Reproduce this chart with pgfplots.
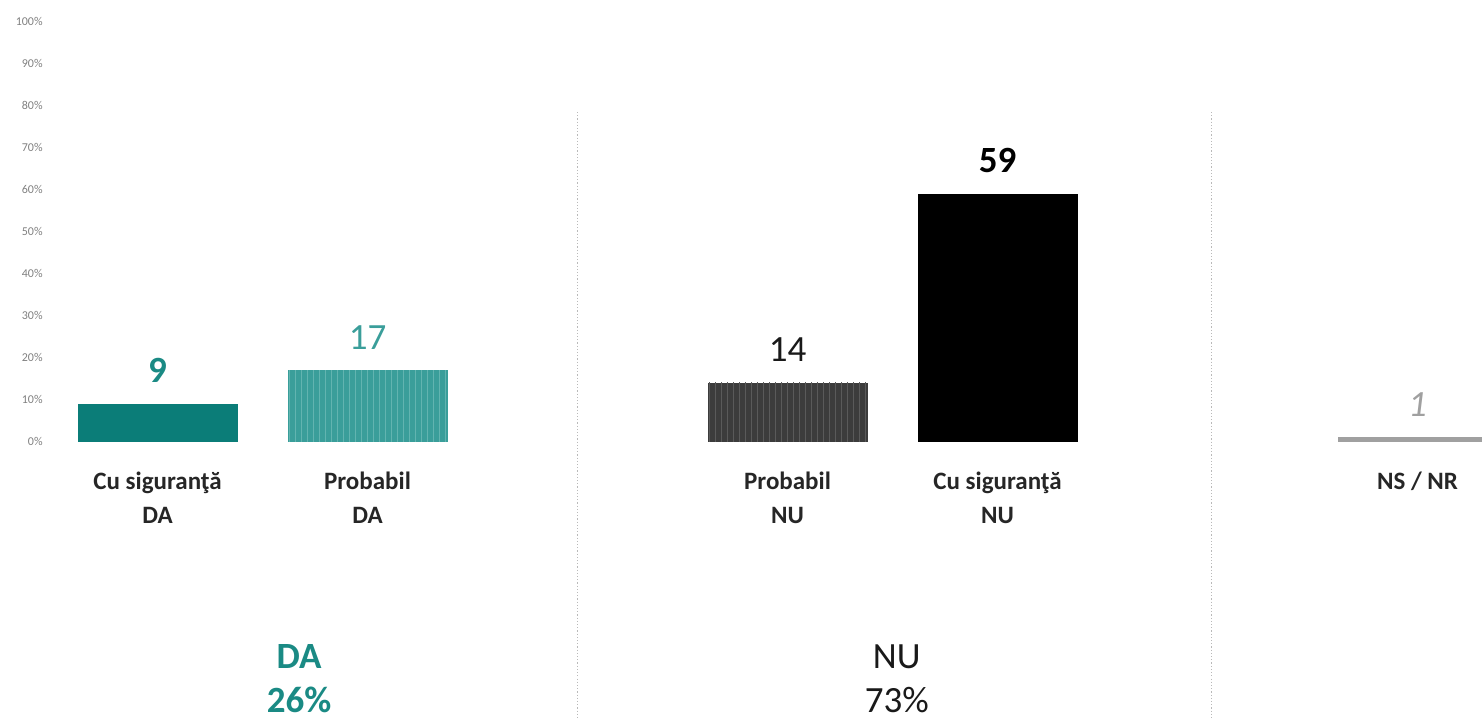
\documentclass[border=0pt]{standalone}
\usepackage{fontspec}
\setmainfont{Carlito}
\usepackage{pgfplots}
\pgfplotsset{compat=1.18}
\usetikzlibrary{patterns}
\definecolor{tealdark}{HTML}{0B7D78}
\definecolor{tealtext}{HTML}{1A8A84}
\definecolor{teallight}{HTML}{3A9E9A}
\definecolor{tealstripe}{HTML}{62B4B0}
\definecolor{greydark}{HTML}{3C3C3C}
\definecolor{greystripe}{HTML}{5A5A5A}
\definecolor{nsgrey}{HTML}{A0A0A0}
\begin{document}
\begin{tikzpicture}
  \begin{axis}[
    width=741pt, height=360pt, scale only axis,
    xmin=-0.75, xmax=6.307,
    ymin=-66.3, ymax=105.2,
    axis line style={draw=none},
    major tick length=0pt,
    ybar, bar width=80pt, bar shift=0pt,
    xtick={0,1,3,4,6},
    xticklabels={{Cu siguranţă\\DA},{Probabil\\DA},{Probabil\\NU},{Cu siguranţă\\NU},{NS / NR\\\phantom{D}}},
    xticklabel style={anchor=base, yshift=98.5pt, align=center,
      font=\fontsize{12.5}{17}\selectfont\bfseries, text=black!85},
    ytick={0,10,...,100},
    yticklabel={\pgfmathprintnumber{\tick}\%},
    yticklabel style={anchor=east, inner sep=0pt, xshift=21.5pt,
      font=\fontsize{6}{7}\selectfont, text=gray},
    /pgf/number format/assume math mode=true,
    nodes near coords, point meta=y,
    every node near coord/.append style={anchor=base, yshift=10.5pt},
    clip=true,
  ]
    % DA
    \addplot[fill=tealdark, draw=none,
      every node near coord/.append style={text=tealtext, font=\fontsize{18.5}{22}\selectfont\bfseries}]
      coordinates {(0,9)};
    \addplot[fill=teallight, draw=none, postaction={pattern=vertical lines, pattern color=tealstripe},
      every node near coord/.append style={text=teallight, font=\fontsize{18.5}{22}\selectfont}]
      coordinates {(1,17)};
    % NU
    \addplot[fill=greydark, draw=none, postaction={pattern=vertical lines, pattern color=greystripe},
      every node near coord/.append style={text=black!90, font=\fontsize{18.5}{22}\selectfont}]
      coordinates {(3,14)};
    \addplot[fill=black, draw=none,
      every node near coord/.append style={text=black, font=\fontsize{18.5}{22}\selectfont\bfseries}]
      coordinates {(4,59)};
    % NS / NR
    \addplot[fill=nsgrey, draw=none,
      every node near coord/.append style={text=nsgrey, font=\fontsize{18.5}{22}\selectfont\itshape}]
      coordinates {(6,1)};

    \draw[gray!55, densely dotted, line width=0.6pt] (axis cs:2,78.5) -- (axis cs:2,-66.3);
    \draw[gray!55, densely dotted, line width=0.6pt] (axis cs:5.02,78.5) -- (axis cs:5.02,-66.3);

    \node[anchor=base, align=center, text=tealtext, font=\fontsize{18.5}{22}\selectfont\bfseries]
      at (axis cs:0.674,-64.6) {DA\\26\%};
    \node[anchor=base, align=center, text=black!90, font=\fontsize{18.5}{22}\selectfont]
      at (axis cs:3.52,-64.6) {NU\\73\%};
  \end{axis}
  \pgfresetboundingbox
  \path[use as bounding box] (current axis.south west) rectangle (current axis.north east);
\end{tikzpicture}
\end{document}
